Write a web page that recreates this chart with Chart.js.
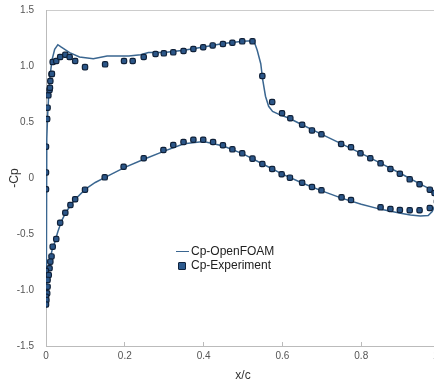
<!DOCTYPE html>
<html lang="en">
<head>
    <meta charset="UTF-8">
    <title>Cp distribution</title>
    <script src="https://cdn.jsdelivr.net/npm/chart.js"></script>
    <style>
        html, body { margin: 0; padding: 0; background: #fff; overflow: hidden; }
        .wrap { position: relative; width: 434px; height: 383px; overflow: hidden; }
        .legend { position: absolute; left: 176px; top: 244px; font: 12px "Liberation Sans", Arial, sans-serif; color: #222; }
        .legend div { height: 14px; line-height: 14px; white-space: nowrap; }
        .sym { display: inline-block; width: 13px; margin-right: 2px; vertical-align: middle; position: relative; height: 8px; }
        .sym.line:before { content: ""; position: absolute; left: 0; right: 0; top: 3px; border-top: 1.5px solid #3a6690; }
        .sym.box:before { content: ""; position: absolute; left: 2px; top: 0; width: 6px; height: 6px; background: #2d5b8f; border: 1px solid #10233d; border-radius: 1px; }
    </style>
</head>
<body>
<div class="wrap">
    <canvas id="myChart" width="455" height="383"></canvas>
    <div class="legend" id="legend"></div>
</div>

<script>
    // OpenFOAM curve: upper surface TE -> LE, then lower surface LE -> TE
    const foamX = [1.0, 0.99, 0.975, 0.95, 0.9, 0.85, 0.8, 0.75, 0.7, 0.65, 0.617, 0.59, 0.575, 0.565, 0.557, 0.55, 0.545,
        0.536, 0.53, 0.524, 0.5, 0.45, 0.4, 0.35, 0.3, 0.26, 0.24, 0.21, 0.19, 0.155, 0.12, 0.085, 0.06, 0.038, 0.03,
        0.022, 0.015, 0.01, 0.007, 0.004, 0.002, 0.001, 0,
        0, 0.002, 0.005, 0.01, 0.015, 0.02, 0.03, 0.04, 0.05, 0.065, 0.08, 0.1, 0.125, 0.15, 0.2, 0.25, 0.3, 0.35,
        0.4, 0.45, 0.5, 0.55, 0.6, 0.65, 0.7, 0.75, 0.8, 0.85, 0.9, 0.925, 0.95, 0.97, 0.98, 0.99, 1.0];
    const foamY = [-0.15, -0.13, -0.1, -0.055, 0.04, 0.13, 0.22, 0.305, 0.39, 0.475, 0.533, 0.57, 0.595, 0.64, 0.73, 0.875, 1.02,
        1.14, 1.2, 1.225, 1.22, 1.2, 1.17, 1.14, 1.12, 1.12, 1.1, 1.09, 1.09, 1.09, 1.065, 1.08, 1.12, 1.17, 1.19,
        1.15, 1.05, 0.9, 0.75, 0.55, 0.35, 0.15, 0,
        -1.13, -0.98, -0.85, -0.73, -0.65, -0.6, -0.48, -0.38, -0.31, -0.23, -0.17, -0.1, -0.04, 0.005, 0.095, 0.17, 0.24, 0.305,
        0.325, 0.285, 0.215, 0.125, 0.035, -0.045, -0.115, -0.18, -0.235, -0.28, -0.315, -0.33, -0.34, -0.335, -0.3, -0.22, -0.15];

    // Experiment points
    const expX = [0, 0, 0, 0.003, 0.004, 0.006, 0.009, 0.01, 0.011, 0.014, 0.015, 0.017, 0.026, 0.036, 0.049, 0.06, 0.074,
        0.099, 0.15, 0.198, 0.22, 0.248, 0.278, 0.299, 0.323, 0.349, 0.374, 0.399, 0.423, 0.449, 0.473, 0.498, 0.524,
        0.549, 0.574, 0.599, 0.62, 0.65, 0.675, 0.699, 0.749, 0.774, 0.798, 0.823, 0.849, 0.874, 0.898, 0.923, 0.948,
        0.974, 0.986, 0.992, 0.974,
        0.948, 0.923, 0.898, 0.874, 0.849, 0.774, 0.75, 0.699, 0.675, 0.65, 0.619, 0.598, 0.574, 0.549, 0.524, 0.498,
        0.473, 0.449, 0.424, 0.399, 0.374, 0.349, 0.323, 0.298, 0.248, 0.197, 0.149, 0.099, 0.074, 0.062, 0.049, 0.036,
        0.026, 0.017, 0.014, 0.011, 0.009, 0, 0.007, 0.004, 0.004, 0.003, 0, 0.001, 0];
    const expY = [-0.1, 0.05, 0.28, 0.527, 0.628, 0.738, 0.786, 0.806, 0.866, 0.926, 0.93, 1.036, 1.045, 1.08, 1.1, 1.08, 1.045,
        0.99, 1.015, 1.045, 1.045, 1.08, 1.107, 1.113, 1.122, 1.134, 1.152, 1.167, 1.184, 1.196, 1.208, 1.22, 1.22,
        0.911, 0.679, 0.578, 0.533, 0.476, 0.425, 0.39, 0.304, 0.274, 0.22, 0.176, 0.131, 0.08, 0.038, -0.012, -0.056,
        -0.104, -0.134, -0.21, -0.268,
        -0.288, -0.288, -0.286, -0.277, -0.262, -0.196, -0.173, -0.11, -0.08, -0.042, 0.003, 0.033, 0.08, 0.125, 0.173, 0.22,
        0.256, 0.292, 0.321, 0.342, 0.342, 0.321, 0.295, 0.25, 0.176, 0.101, 0.006, -0.104, -0.19, -0.241, -0.31, -0.399,
        -0.545, -0.613, -0.7, -0.747, -0.806, -0.83, -0.866, -0.91, -0.97, -1.03, -1.06, -1.09, -1.13];

    const xTicks = [0, 0.2, 0.4, 0.6, 0.8, 1];
    const yTicks = [-1.5, -1, -0.5, 0, 0.5, 1, 1.5];

    const lineColor = '#3a6690';
    const tickFont = { family: 'Liberation Sans, Arial, sans-serif', size: 10 };

    function toPoints(xs, ys) {
        return xs.map((x, i) => ({ x: x, y: ys[i] }));
    }

    var ctx = document.getElementById('myChart').getContext('2d');
    var myChart = new Chart(ctx, {
        type: 'scatter',
        data: {
            datasets: [{
                label: 'Cp-OpenFOAM',
                data: toPoints(foamX, foamY),
                showLine: true,
                borderColor: lineColor,
                borderWidth: 1.5,
                pointRadius: 0,
                tension: 0,
                order: 1
            }, {
                label: 'Cp-Experiment',
                data: toPoints(expX, expY),
                pointStyle: 'rectRounded',
                pointRadius: 3.1,
                backgroundColor: '#2b5688',
                borderColor: '#0f2038',
                borderWidth: 1.2,
                order: 0
            }]
        },
        options: {
            responsive: false,
            animation: false,
            devicePixelRatio: 1,
            layout: { padding: { left: 0, right: 4, top: 0, bottom: 0 } },
            plugins: { legend: { display: false }, tooltip: { enabled: false } },
            scales: {
                x: {
                    type: 'linear', position: 'bottom', min: 0, max: 1,
                    afterBuildTicks: s => { s.ticks = xTicks.map(v => ({ value: v })); },
                    afterFit: s => { s.height = 37; },
                    grid: { display: true, drawOnChartArea: false, drawTicks: true, tickLength: -4, color: '#bbb' },
                    border: { display: true, color: '#bbb', width: 1 },
                    ticks: { padding: 8, color: '#555', font: tickFont, maxRotation: 0 },
                    title: { display: true, text: 'x/c', color: '#333', font: { family: 'Liberation Sans, Arial, sans-serif', size: 12 }, padding: 0 }
                },
                x2: {
                    type: 'linear', position: 'top', min: 0, max: 1,
                    afterFit: s => { s.height = 10; },
                    grid: { display: false },
                    border: { display: true, color: '#ccc', width: 1 },
                    ticks: { display: false }
                },
                y: {
                    type: 'linear', min: -1.5, max: 1.5,
                    afterBuildTicks: s => { s.ticks = yTicks.map(v => ({ value: v })); },
                    afterFit: s => { s.width = 46; },
                    grid: { display: false },
                    border: { display: true, color: '#bbb', width: 1 },
                    ticks: { padding: 4, color: '#555', font: tickFont },
                    title: { display: true, text: '-Cp', color: '#333', font: { family: 'Liberation Sans, Arial, sans-serif', size: 12 }, padding: { top: 7, bottom: 0 } }
                }
            }
        }
    });

    // legend built from the datasets
    const legendEl = document.getElementById('legend');
    myChart.data.datasets.forEach((ds, i) => {
        const row = document.createElement('div');
        const sym = document.createElement('span');
        sym.className = 'sym ' + (ds.showLine ? 'line' : 'box');
        row.appendChild(sym);
        row.appendChild(document.createTextNode(ds.label));
        legendEl.appendChild(row);
    });
</script>
</body>
</html>
